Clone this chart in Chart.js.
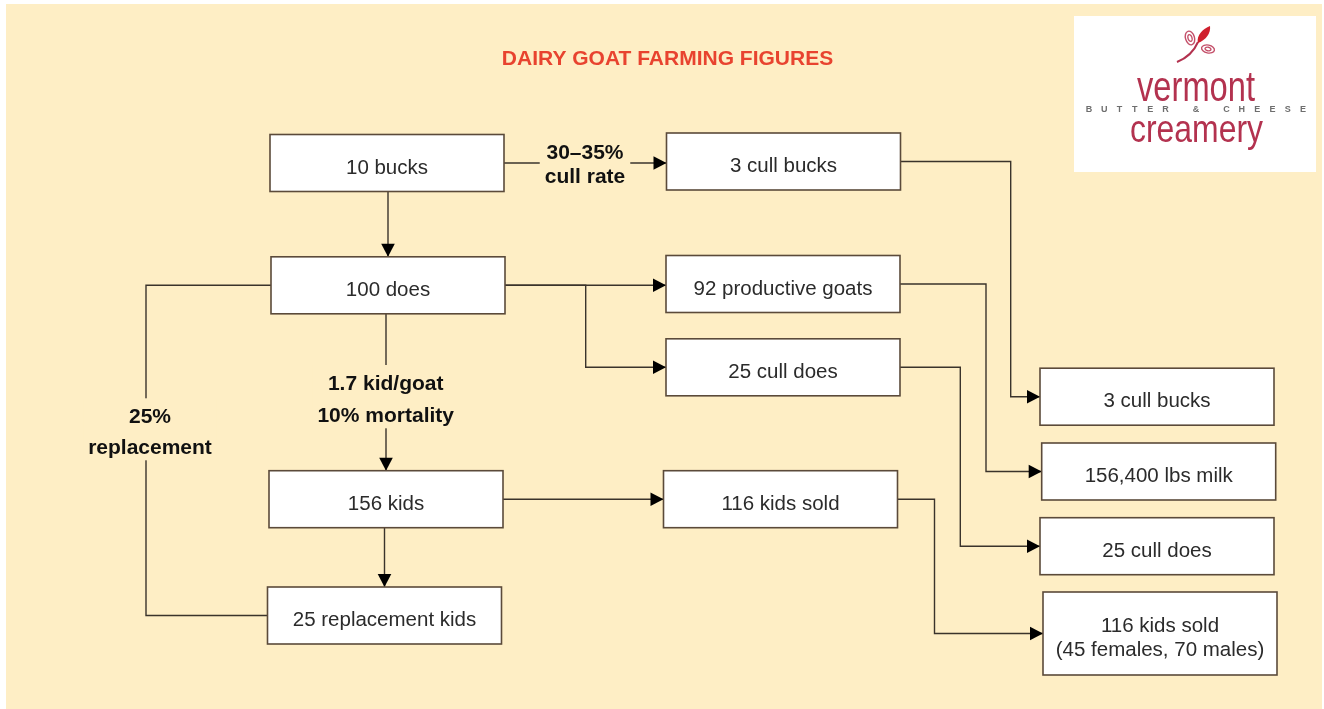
<!DOCTYPE html>
<html>
<head>
<meta charset="utf-8">
<title>Dairy goat farming figures</title>
<script src="https://cdn.jsdelivr.net/npm/chart.js@4.4.1/dist/chart.umd.min.js"></script>
<style>
  html, body { margin: 0; padding: 0; background: #ffffff; }
  canvas { display: block; }
</style>
</head>
<body>
<canvas id="flow" width="1324" height="709"></canvas>
<script>
// flow boxes (text + centre, in page units)
const nodeLabels = [
	"10 bucks", "100 does", "156 kids", "25 replacement kids",
	"3 cull bucks", "92 productive goats", "25 cull does", "116 kids sold",
	"3 cull bucks", "156,400 lbs milk", "25 cull does", "116 kids sold\n(45 females, 70 males)"
];
const nodeX = [387, 388, 386, 384.5, 783.5, 783, 783, 780.5, 1157, 1158.7, 1157, 1160];
const nodeY = [163, 285.3, 499.2, 615.5, 161.5, 284, 367.3, 499.2, 396.7, 471.5, 546.2, 633.5];

// connectors: from box, to box, route kind, bend x
const edgeFrom = [0, 0, 1, 1, 1, 1, 2, 2, 4, 5, 6, 7];
const edgeTo   = [4, 1, 5, 6, 2, 3, 7, 3, 8, 9, 10, 11];
const edgeKind = ["h", "v", "h", "elbow", "v", "loop", "h", "v", "elbow", "elbow", "elbow", "elbow"];
const edgeBend = [null, null, null, 585.7, null, 146, null, null, 1010.7, 986, 960.3, 934.5];

// bold notes on the connectors
const noteLines = [["30\u201335%", "cull rate"], ["1.7 kid/goat", "10% mortality"], ["25%", "replacement"]];
const noteX = [585, 385.7, 150];
const noteY = [159.3, 390, 423.3];
const noteLeading = [23.4, 32.3, 31];

const TITLE = "DAIRY GOAT FARMING FIGURES";
const BOX_W = 234, BOX_H = 57, BOX_LINE = 26;
const CREAM = "#feeec5";
const LINE = "#3a332b";

function boxHeight(i) {
	return BOX_H + BOX_LINE * (nodeLabels[i].split("\n").length - 1);
}

function edgePoints(i) {
	const a = edgeFrom[i], b = edgeTo[i];
	const halfW = BOX_W / 2;
	switch (edgeKind[i]) {
		case "h":
			return [{ x: nodeX[a] + halfW, y: nodeY[a] }, { x: nodeX[b] - halfW, y: nodeY[a] }];
		case "v":
			return [{ x: nodeX[b], y: nodeY[a] + boxHeight(a) / 2 }, { x: nodeX[b], y: nodeY[b] - boxHeight(b) / 2 }];
		case "elbow":
			return [
				{ x: nodeX[a] + halfW, y: nodeY[a] },
				{ x: edgeBend[i], y: nodeY[a] },
				{ x: edgeBend[i], y: nodeY[b] },
				{ x: nodeX[b] - halfW, y: nodeY[b] },
			];
		case "loop":
			return [
				{ x: nodeX[a] - halfW, y: nodeY[a] },
				{ x: edgeBend[i], y: nodeY[a] },
				{ x: edgeBend[i], y: nodeY[b] },
				{ x: nodeX[b] - halfW, y: nodeY[b] },
			];
	}
}

const datasets = edgeFrom.map((_, i) => ({
	data: edgePoints(i),
	showLine: true,
	borderColor: LINE,
	borderWidth: 1.4,
	pointRadius: 0,
	tension: 0,
	fill: false,
}));

function fitText(ctx, text, cx, base, width, font, color) {
	ctx.save();
	ctx.font = font;
	ctx.fillStyle = color;
	ctx.textAlign = "center";
	ctx.textBaseline = "alphabetic";
	const w = ctx.measureText(text).width;
	ctx.translate(cx, base);
	ctx.scale(width / w, 1);
	ctx.fillText(text, 0, 0);
	ctx.restore();
}

function drawLogo(ctx) {
	ctx.fillStyle = "#ffffff";
	ctx.fillRect(1074, 16, 242, 156);
	const rose = "#b3324f";
	// little stem, leaf and buds
	ctx.save();
	ctx.strokeStyle = rose;
	ctx.lineWidth = 2;
	ctx.beginPath();
	ctx.moveTo(1177, 62);
	ctx.quadraticCurveTo(1192, 56, 1198, 42);
	ctx.stroke();
	ctx.fillStyle = "#cf1f2d";
	ctx.beginPath();
	ctx.moveTo(1198, 43);
	ctx.bezierCurveTo(1196, 35, 1203, 29, 1210, 26);
	ctx.bezierCurveTo(1211, 33, 1206, 40, 1198, 43);
	ctx.fill();
	ctx.strokeStyle = "#c4506a";
	ctx.lineWidth = 1.4;
	ctx.beginPath();
	ctx.ellipse(1190, 38, 4.5, 7, -0.3, 0, Math.PI * 2);
	ctx.stroke();
	ctx.beginPath();
	ctx.ellipse(1190, 38, 2, 3.5, -0.3, 0, Math.PI * 2);
	ctx.stroke();
	ctx.beginPath();
	ctx.ellipse(1208, 49, 6.5, 4, 0.2, 0, Math.PI * 2);
	ctx.stroke();
	ctx.beginPath();
	ctx.ellipse(1208, 49, 3, 1.8, 0.2, 0, Math.PI * 2);
	ctx.stroke();
	ctx.restore();

	fitText(ctx, "vermont", 1196, 101, 118, "42px 'Liberation Sans'", rose);
	fitText(ctx, "creamery", 1196.5, 142, 133, "39px 'Liberation Sans'", rose);

	// spaced small caps line
	const word = "BUTTER & CHEESE";
	ctx.save();
	ctx.font = "bold 9px 'Liberation Sans'";
	ctx.fillStyle = "#6e6e6e";
	ctx.textAlign = "center";
	ctx.textBaseline = "middle";
	const left = 1089, right = 1303;
	for (let k = 0; k < word.length; k++) {
		const x = left + k * (right - left) / (word.length - 1);
		ctx.fillText(word[k], x, 109.5);
	}
	ctx.restore();
}

const flowPlugin = {
	id: "flow",
	beforeDraw(chart) {
		const ctx = chart.ctx;
		ctx.save();
		ctx.fillStyle = "#ffffff";
		ctx.fillRect(0, 0, chart.width, chart.height);
		ctx.fillStyle = CREAM;
		ctx.fillRect(6, 4, chart.width - 8, chart.height - 4);
		drawLogo(ctx);
		ctx.font = "bold 21px 'Liberation Sans'";
		ctx.fillStyle = "#e8432f";
		ctx.textAlign = "center";
		ctx.textBaseline = "alphabetic";
		ctx.fillText(TITLE, 667.5, 65);
		ctx.restore();
	},
	afterDatasetsDraw(chart) {
		const ctx = chart.ctx;
		const sx = chart.scales.x, sy = chart.scales.y;
		ctx.save();

		// arrow heads at the end of each connector
		ctx.fillStyle = "#000000";
		edgeFrom.forEach((_, i) => {
			if (edgeKind[i] === "loop") return;
			const pts = edgePoints(i);
			const p = pts[pts.length - 1], q = pts[pts.length - 2];
			const tx = sx.getPixelForValue(p.x), ty = sy.getPixelForValue(p.y);
			const ang = Math.atan2(ty - sy.getPixelForValue(q.y), tx - sx.getPixelForValue(q.x));
			ctx.save();
			ctx.translate(tx, ty);
			ctx.rotate(ang);
			ctx.beginPath();
			ctx.moveTo(0, 0);
			ctx.lineTo(-13, -6.8);
			ctx.lineTo(-13, 6.8);
			ctx.closePath();
			ctx.fill();
			ctx.restore();
		});

		// bold notes, with a cream patch that breaks the line
		ctx.font = "bold 21px 'Liberation Sans'";
		ctx.textAlign = "center";
		ctx.textBaseline = "alphabetic";
		noteLines.forEach((lines, i) => {
			const cx = sx.getPixelForValue(noteX[i]);
			const top = sy.getPixelForValue(noteY[i]);
			const w = Math.max(...lines.map((t) => ctx.measureText(t).width)) + 10;
			const last = top + noteLeading[i] * (lines.length - 1);
			ctx.fillStyle = CREAM;
			ctx.fillRect(cx - w / 2, top - 25, w, last - top + 31);
			ctx.fillStyle = "#111111";
			lines.forEach((t, k) => ctx.fillText(t, cx, top + noteLeading[i] * k));
		});

		// boxes
		ctx.font = "20.5px 'Liberation Sans'";
		nodeLabels.forEach((label, i) => {
			const cx = sx.getPixelForValue(nodeX[i]);
			const cy = sy.getPixelForValue(nodeY[i]);
			const h = boxHeight(i);
			ctx.fillStyle = "#ffffff";
			ctx.fillRect(cx - BOX_W / 2, cy - h / 2, BOX_W, h);
			ctx.strokeStyle = "#5b4a3a";
			ctx.lineWidth = 1.6;
			ctx.strokeRect(cx - BOX_W / 2, cy - h / 2, BOX_W, h);
			const lines = label.split("\n");
			ctx.fillStyle = "#2b2b2b";
			lines.forEach((t, k) => {
				ctx.fillText(t, cx, cy + 10.5 - 23.3 * (lines.length - 1) / 2 + 23.3 * k);
			});
		});
		ctx.restore();
	},
};

new Chart(document.getElementById("flow").getContext("2d"), {
	type: "scatter",
	data: { datasets: datasets },
	options: {
		responsive: false,
		animation: false,
		layout: { padding: 0 },
		plugins: {
			legend: { display: false },
			tooltip: { enabled: false },
		},
		scales: {
			x: { type: "linear", min: 0, max: 1324, display: false },
			y: { type: "linear", min: 0, max: 709, reverse: true, display: false },
		},
	},
	plugins: [flowPlugin],
});
</script>
</body>
</html>
